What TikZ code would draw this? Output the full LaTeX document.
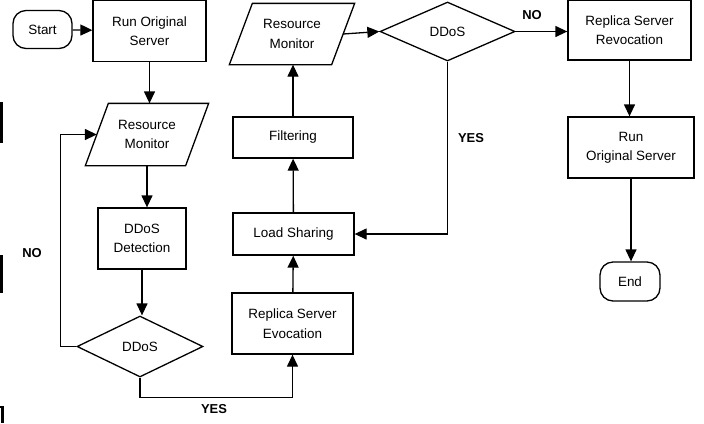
\documentclass[tikz,border=0pt]{standalone}
\usepackage{fontspec}
\setmainfont{Liberation Sans}
\usetikzlibrary{shapes.geometric, arrows.meta}
\begin{document}
\begin{tikzpicture}[x = 1bp, y = -1bp, line width = 1.3bp,
                    every node/.style = {font = \fontsize{13.5}{19.5}\selectfont,
                                         align = center, inner sep = 0pt},
                    procbox/.style = {draw, rectangle},
                    termbox/.style = {draw, rectangle, rounded corners = 13bp},
                    iobox/.style = {rectangle},
                    decbox/.style = {draw, diamond},
                    flow/.style = {-{Triangle[length = 12bp, width = 11bp]}},
                    answer/.style = {font = \fontsize{13}{15}\selectfont\bfseries}]
  \useasboundingbox (0,0) rectangle (704,423);
  \node[termbox, minimum width = 59bp, minimum height = 38bp] (start) at (42.5,29.5) {Start};
  \node[procbox, minimum width = 113bp, minimum height = 61bp] (run1) at (149.5,31) {Run Original\\Server};
  \node[iobox, minimum width = 99bp, minimum height = 61bp] (mon1) at (147,134.5) {Resource\\Monitor};
  \node[procbox, minimum width = 88bp, minimum height = 61bp] (detect) at (142,238.5) {DDoS\\Detection};
  \node[decbox, minimum width = 126bp, minimum height = 61bp] (dec1) at (140,346.5) {DDoS};
  \node[procbox, minimum width = 121bp, minimum height = 61bp] (evo) at (292.5,323.5) {Replica Server\\Evocation};
  \node[procbox, minimum width = 121bp, minimum height = 42bp] (share) at (293.5,234) {Load Sharing};
  \node[procbox, minimum width = 120bp, minimum height = 41bp] (filt) at (293,137.5) {Filtering};
  \node[iobox, minimum width = 101bp, minimum height = 60bp] (mon2) at (292,34) {Resource\\Monitor};
  \node[decbox, minimum width = 135bp, minimum height = 59bp] (dec2) at (447.5,31.5) {DDoS};
  \node[procbox, minimum width = 123bp, minimum height = 60bp] (revo) at (629.5,30) {Replica Server\\Revocation};
  \node[procbox, minimum width = 126bp, minimum height = 61bp] (run2) at (631,147.5) {Run\\Original Server};
  \node[termbox, minimum width = 60bp, minimum height = 39bp] (end) at (630,281.5) {End};

  \foreach \n in {mon1, mon2}
  {
    \draw ([xshift = -11.5bp]\n.south west) -- ([xshift = 11.5bp]\n.north west)
      -- ([xshift = 11.5bp]\n.north east) -- ([xshift = -11.5bp]\n.south east) -- cycle;
  }

  \draw[flow] (start) -- (run1);
  \draw[flow] (run1.south) -- (run1.south |- mon1.north);
  \draw[flow] (mon1.south) -- (mon1.south |- detect.north);
  \draw[flow] (detect.south) -- (detect.south |- dec1.north);
  \draw[flow] (dec1.west) -- ++(-16,0) |- (mon1.west);
  \draw[flow] (dec1.south) -- ++(0,20) -| (evo.south);
  \draw[flow] (evo) -- (share);
  \draw[flow] (share) -- (filt);
  \draw[flow] (filt.north) -- (filt.north |- mon2.south);
  \draw[flow] (mon2.east) -- (dec2.west);
  \draw[flow] (dec2.south) |- (share.east);
  \draw[flow] (dec2.east) -- (dec2.east -| revo.west);
  \draw[flow] (revo.south) -- (revo.south |- run2.north);
  \draw[flow] (run2.south) -- (run2.south |- end.north);

  \node[answer] (no1) at (32,253) {NO};
  \node[answer] (yes1) at (214,409) {YES};
  \node[answer] (yes2) at (471,138) {YES};
  \node[answer] (no2) at (532,15) {NO};

  \draw[line width = 2.5bp] (1.5,102) -- (1.5,143);
  \draw[line width = 2.5bp] (1.5,255) -- (1.5,293);
  \draw[line width = 2.5bp] (0,407) -- (2.5,407) -- (2.5,423);
\end{tikzpicture}
\end{document}
